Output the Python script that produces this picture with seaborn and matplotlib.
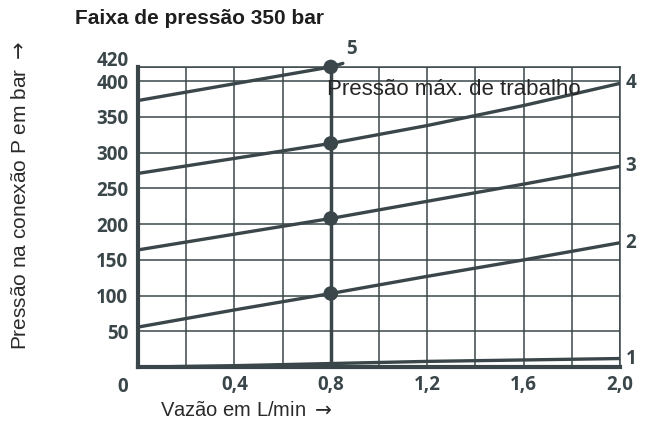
import numpy as np
import pandas as pd
import matplotlib
matplotlib.use("Agg")
import matplotlib.pyplot as plt
import seaborn as sns
from matplotlib.font_manager import FontProperties
from matplotlib.transforms import offset_copy

# =====================================================
# DATA
# =====================================================

flow = [0.0, 0.4, 0.8, 1.2, 1.6, 2.0]
curve_1 = [0, 2, 5, 8, 10, 12]
curve_2 = [56, 80, 103, 127, 150, 174]
curve_3 = [164, 186, 208, 232, 256, 281]
curve_4 = [271, 292, 313, 338, 366, 397]
flow_5 = [0.0, 0.8, 0.85]
curve_5 = [373, 420, 425]

mark_flow = [0.8, 0.8, 0.8, 0.8]
mark_pressure = [103, 208, 313, 420]

curve_names = ["1", "2", "3", "4"]
x_ticks = [0.0, 0.2, 0.4, 0.6, 0.8, 1.0, 1.2, 1.4, 1.6, 1.8, 2.0]
x_labels = ["", "", "0,4", "", "0,8", "", "1,2", "", "1,6", "", "2,0"]
y_ticks = [50, 100, 150, 200, 250, 300, 350, 400, 420]

# =====================================================
# SETTINGS
# =====================================================

sns.set_theme(style="whitegrid")
plt.rcParams["font.family"] = ["Liberation Sans", "DejaVu Sans"]

ink = "#3a4649"

df = pd.DataFrame({
    "flow": flow * 4,
    "pressure": curve_1 + curve_2 + curve_3 + curve_4,
    "curve": [n for n in curve_names for _ in flow],
})
df5 = pd.DataFrame({"flow": flow_5, "pressure": curve_5})
marks = pd.DataFrame({"flow": mark_flow, "pressure": mark_pressure})

fig = plt.figure(figsize=(6.54, 4.21), dpi=100)
ax = fig.add_axes([0.211, 0.128, 0.737, 0.713])

sns.lineplot(
    data=df, x="flow", y="pressure", units="curve", estimator=None,
    color=ink, linewidth=2.4, ax=ax, zorder=3
)
sns.lineplot(
    data=df5, x="flow", y="pressure", color=ink, linewidth=2.4,
    ax=ax, zorder=3, clip_on=False
)
ax.plot([0.8, 0.8], [0, 420], color=ink, linewidth=2.5, zorder=3)
sns.scatterplot(
    data=marks, x="flow", y="pressure", color=ink, s=110,
    edgecolor="none", ax=ax, zorder=4, clip_on=False
)

ax.set_xlim(0, 2.0)
ax.set_ylim(0, 420)

ax.set_xticks(x_ticks)
ax.set_xticklabels(x_labels)
ax.set_yticks(y_ticks)
ax.set_yticklabels([str(v) for v in y_ticks])

tick_font = dict(family=["Open Sans", "DejaVu Sans"], weight="bold", size=13.5)
for lab in ax.get_xticklabels() + ax.get_yticklabels():
    lab.set_fontproperties(FontProperties(**tick_font))
    lab.set_color(ink)
ax.tick_params(axis="both", length=0)
ax.tick_params(axis="y", pad=7)
ax.tick_params(axis="x", pad=6)

# lift the 420 label above the frame so it clears 400
top_lab = ax.get_yticklabels()[-1]
top_lab.set_transform(offset_copy(top_lab.get_transform(), fig=fig, y=8, units="dots"))

ax.grid(True, color=ink, linewidth=1.1)
for side in ["top", "right"]:
    ax.spines[side].set_color(ink)
    ax.spines[side].set_linewidth(1.1)
for side in ["left", "bottom"]:
    ax.spines[side].set_color(ink)
    ax.spines[side].set_linewidth(3)

ax.set_xlabel("")
ax.set_ylabel("")

# origin label
ax.annotate("0", xy=(0, 0), xytext=(-11, -14), textcoords="offset points",
            ha="center", va="center", color=ink, **tick_font)

# curve numbers
ends = [curve_1[-1], curve_2[-1], curve_3[-1], curve_4[-1]]
for name, yv in zip(curve_names, ends):
    ax.annotate(name, xy=(2.0, yv), xytext=(4, 0), textcoords="offset points",
                ha="left", va="center", color=ink, annotation_clip=False,
                **tick_font)
ax.annotate("5", xy=(0.8, 420), xytext=(11, 13), textcoords="offset points",
            ha="left", va="center", color=ink, annotation_clip=False,
            **tick_font)

ax.text(0.785, 388, "Pressão máx. de trabalho", fontsize=16,
        color="#262626", ha="left", va="center", zorder=5)

fig.text(0.115, 0.957, "Faixa de pressão 350 bar", fontsize=15,
         weight="bold", color="#1e1e1e", ha="left", va="center")
fig.text(0.031, 0.535, "Pressão na conexão P em bar $\\rightarrow$", fontsize=15,
         color="#2a2a2a", rotation=90, ha="center", va="center")
fig.text(0.245, 0.025, "Vazão em L/min $\\rightarrow$", fontsize=14.5,
         color="#2a2a2a", ha="left", va="center")

fig.savefig("out.png", dpi=100)
